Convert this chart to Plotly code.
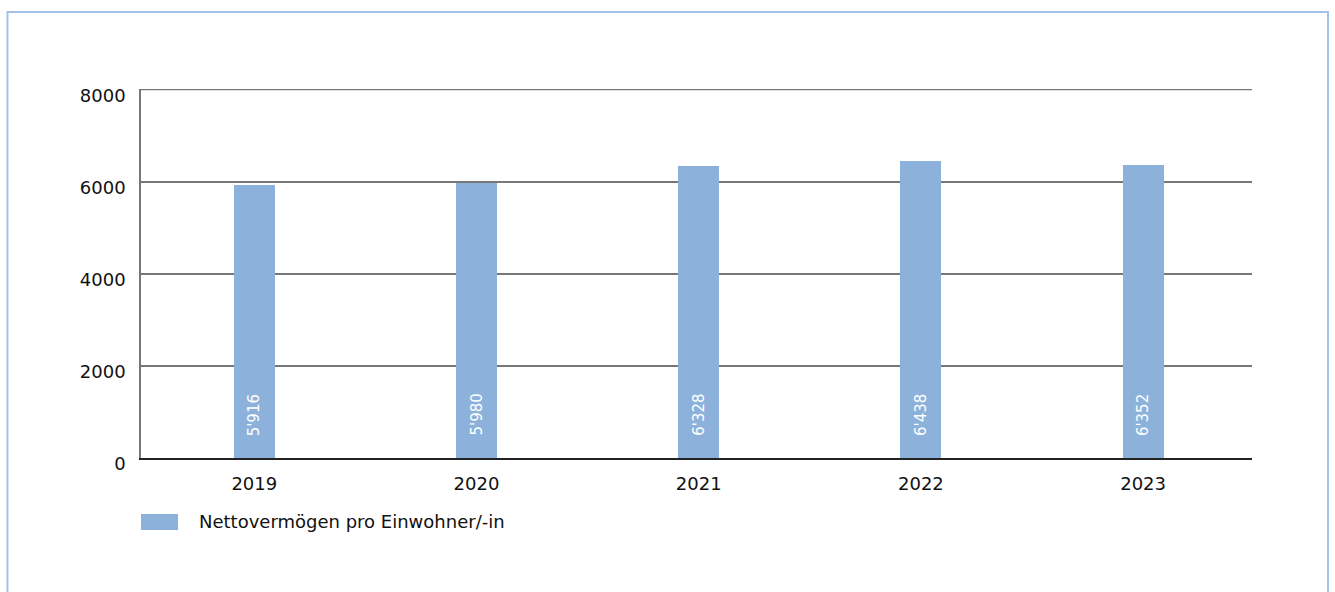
import plotly.graph_objects as go

years = ["2019", "2020", "2021", "2022", "2023"]
values = [5916, 5980, 6328, 6438, 6352]
labels = ["5'916", "5'980", "6'328", "6'438", "6'352"]
series_name = "Nettovermögen pro Einwohner/-in"
y_ticks = [0, 2000, 4000, 6000, 8000]

BAR_COLOR = "#8cb1db"
GRID = "#777777"
FONT = "DejaVu Sans"

fig = go.Figure()
fig.add_trace(go.Bar(
    x=years, y=values, name=series_name,
    marker=dict(color=BAR_COLOR, line=dict(width=0)),
    width=0.185, showlegend=False,
))

annotations = []
for i, lab in enumerate(labels):
    annotations.append(dict(x=i, y=0, xref="x", yref="y", text=lab, textangle=-90,
                            showarrow=False, yanchor="bottom", xanchor="center",
                            yshift=20, font=dict(color="white", size=15, family=FONT)))
# legend (drawn manually to match the wide swatch)
annotations.append(dict(x=0.0505, y=-0.1734, xref="paper", yref="paper", text=series_name,
                        showarrow=False, xanchor="left", yanchor="middle",
                        font=dict(size=18, family=FONT, color="#111")))

fig.update_layout(
    width=1335, height=592,
    paper_bgcolor="white", plot_bgcolor="white",
    margin=dict(l=141, r=83, t=89, b=134),
    font=dict(family=FONT, size=18, color="#111"),
    showlegend=False,
    bargap=0,
    annotations=annotations,
    shapes=[
        dict(type="rect", xref="paper", yref="paper", x0=-0.1202, x1=1.0684, y0=1.2087, y1=-0.5,
             line=dict(color="#a3c2e6", width=2), layer="below"),
        dict(type="rect", xref="paper", yref="paper", x0=0, x1=0.0333, y0=-0.1951, y1=-0.1518,
             fillcolor=BAR_COLOR, line=dict(width=0)),
        dict(type="line", xref="paper", yref="y", x0=0, x1=1, y0=y_ticks[-1], y1=y_ticks[-1],
             line=dict(color=GRID, width=1.5), layer="below"),
    ],
)
fig.update_xaxes(type="category", range=[-0.51, len(years) - 0.51], autorange=False,
                 showgrid=False, showline=True, linecolor="#222", linewidth=2,
                 ticks="", tickfont=dict(size=18), ticklabelstandoff=8)
fig.update_yaxes(range=[0, 8010], autorange=False, tickvals=y_ticks, showgrid=True,
                 gridcolor=GRID, gridwidth=1.5, showline=True, linecolor=GRID, linewidth=1.5,
                 zeroline=False, ticks="", ticklabelstandoff=10, ticklabelshift=6,
                 tickfont=dict(size=18))
fig.write_html("out.html", config={"displayModeBar": False},
               post_script="document.body.style.margin='0';")
